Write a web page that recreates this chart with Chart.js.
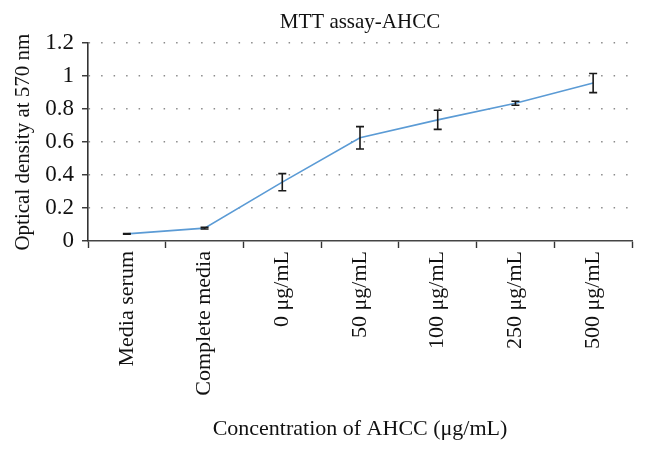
<!DOCTYPE html>
<html>
<head>
<meta charset="utf-8">
<script src="https://cdn.jsdelivr.net/npm/chart.js@4/dist/chart.umd.min.js"></script>
<style>
  html, body { margin: 0; padding: 0; background: #fff; }
  #wrap { width: 646px; height: 449px; }
</style>
</head>
<body>
<div id="wrap"><canvas id="mtt-chart"></canvas></div>
<script>
var categories = ["Media serum", "Complete media", "0 μg/mL", "50 μg/mL", "100 μg/mL", "250 μg/mL", "500 μg/mL"];
var density = [0.043, 0.078, 0.357, 0.626, 0.735, 0.836, 0.958];
var errors = [0.002, 0.005, 0.052, 0.068, 0.058, 0.012, 0.058];
var yTicks = [0, 0.2, 0.4, 0.6, 0.8, 1, 1.2];

var serif = "'Liberation Serif', 'Times New Roman', serif";

// error bars, drawn from the errors array through the scales
var errorBars = {
  id: "errorBars",
  afterDatasetsDraw: function (chart) {
    var ctx = chart.ctx;
    var x = chart.scales.x;
    var y = chart.scales.y;
    ctx.save();
    ctx.strokeStyle = "#1a1a1a";
    ctx.lineWidth = 1.6;
    density.forEach(function (v, i) {
      var px = x.getPixelForValue(i);
      var top = y.getPixelForValue(v + errors[i]);
      var bot = y.getPixelForValue(v - errors[i]);
      ctx.beginPath();
      ctx.moveTo(px, top);
      ctx.lineTo(px, bot);
      ctx.moveTo(px - 4, top);
      ctx.lineTo(px + 4, top);
      ctx.moveTo(px - 4, bot);
      ctx.lineTo(px + 4, bot);
      ctx.stroke();
    });
    ctx.restore();
  }
};

var ctx = document.getElementById("mtt-chart").getContext("2d");
var chart = new Chart(ctx, {
  type: "line",
  data: {
    labels: categories,
    datasets: [
      {
        label: "MTT assay-AHCC",
        data: density,
        borderColor: "#5b9bd5",
        borderWidth: 1.6,
        pointRadius: 0,
        tension: 0,
        fill: false,
      },
    ],
  },
  options: {
    responsive: true,
    maintainAspectRatio: false,
    animation: false,
    layout: { padding: { left: 0, right: 14, top: 0, bottom: 5 } },
    plugins: {
      legend: { display: false },
      tooltip: { enabled: false },
      title: {
        display: true,
        fullSize: false,
        text: "MTT assay-AHCC",
        color: "#111",
        font: { family: serif, size: 21, weight: "normal" },
        padding: { top: 10, bottom: 8 },
      },
    },
    scales: {
      x: {
        type: "category",
        offset: true,
        grid: {
          offset: true,
          drawOnChartArea: false,
          drawTicks: true,
          tickLength: 7,
          tickColor: "#333",
          tickWidth: 1.4,
        },
        border: { display: true, color: "#444", width: 1.6 },
        ticks: {
          color: "#111",
          minRotation: 90,
          maxRotation: 90,
          padding: 3,
          autoSkip: false,
          font: { family: serif, size: 22 },
        },
        title: {
          display: true,
          text: "Concentration of AHCC (μg/mL)",
          color: "#111",
          font: { family: serif, size: 22 },
          padding: { top: 4, bottom: 2 },
        },
        afterFit: function (scale) {
          scale.height = 203;
        },
      },
      y: {
        min: 0,
        max: 1.2,
        afterBuildTicks: function (scale) {
          scale.ticks = yTicks.map(function (v) { return { value: v }; });
        },
        grid: {
          color: function (c) { return c.tick && c.tick.value === 0 ? "rgba(0,0,0,0)" : "#8a8a8a"; },
          lineWidth: 1.5,
          drawTicks: true,
          tickLength: 6,
          tickColor: "#333",
          tickWidth: 1.4,
          tickBorderDash: [],
        },
        border: { display: true, color: "#333", width: 1.6, dash: [1.5, 11] },
        ticks: {
          color: "#111",
          padding: 8,
          font: { family: serif, size: 23 },
          callback: function (v) { return String(v); },
        },
        title: {
          display: true,
          text: "Optical density at 570 nm",
          color: "#111",
          font: { family: serif, size: 21 },
          padding: { top: 11, bottom: 0 },
        },
        afterFit: function (scale) {
          scale.width = 88;
        },
      },
    },
  },
  plugins: [errorBars],
});
</script>
</body>
</html>
